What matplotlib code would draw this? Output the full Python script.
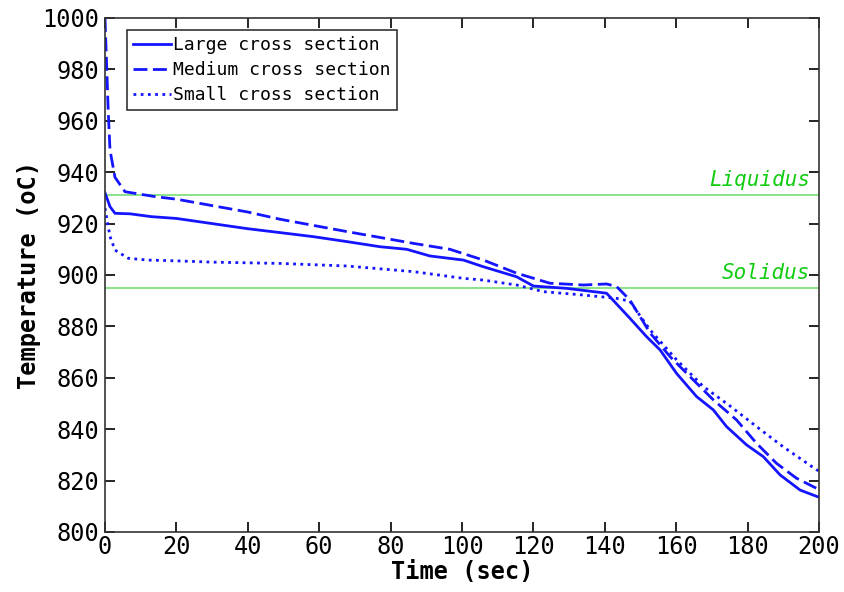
import matplotlib
matplotlib.use("Agg")
import matplotlib.pyplot as plt

# time (sec) and temperature (oC) for each cross section
t_large = [0, 1.4, 2.8, 7, 13, 20, 30, 40, 49, 58.4, 67.7, 77, 84.5, 91, 100.4, 106,
           115.3, 120, 129.3, 140.5, 147, 151.7, 155.5, 160.1, 165.7, 170.4, 174.1,
           179.7, 184.4, 189.1, 194.7, 200]
T_large = [932, 926.6, 924, 923.8, 922.7, 922, 920, 918, 916.5, 914.9, 913, 911, 910,
           907.4, 905.8, 903.2, 899.3, 895.7, 894.8, 892.9, 883.2, 876, 870.8, 861.7,
           852.7, 847.5, 841, 833.9, 829.3, 822.2, 816.3, 813.5]

t_medium = [0, 0.9, 1.4, 2.8, 5.6, 14, 20, 30, 40, 49, 67.7, 86.4, 96.6, 106, 115.3,
            124.6, 134, 140.5, 143.3, 147, 152.7, 158.3, 163.9, 170.4, 176.9, 182.5,
            188.1, 193.7, 200]
T_medium = [1000, 964, 948.6, 938, 932.4, 930.5, 929.5, 927, 924.5, 921.7, 916.9, 912.3,
            910, 905.8, 900.7, 896.8, 896.1, 896.5, 895.5, 890.3, 877.4, 868.2, 860.4,
            851.4, 843.6, 834.5, 826.7, 820.9, 816.5]

t_small = [0, 1.4, 2.8, 6.5, 12, 20, 30, 49, 67.7, 86.4, 100.4, 106, 115.3, 122.8, 134,
           143.3, 147, 152.7, 160.1, 167.6, 175.1, 182.5, 189.9, 199.3, 200]
T_small = [926, 915, 909.7, 906.5, 905.8, 905.5, 905, 904.5, 903.5, 901.3, 898.7, 898,
           896.1, 893.5, 892.2, 890.9, 889.8, 878.6, 867, 856.6, 849, 841, 833.2, 824.2,
           823.8]

LIQUIDUS = 931
SOLIDUS = 895

BLUE = "#1414ff"
GREEN_LINE = "#80e080"
GREEN_TEXT = "#11cc11"

plt.rcParams["font.family"] = ["DejaVu Sans Mono"]

fig = plt.figure(figsize=(8.44, 5.92), dpi=100)
ax = fig.add_axes([0.1244, 0.1014, 0.846, 0.8682])

ax.axhline(LIQUIDUS, color=GREEN_LINE, lw=1.3, zorder=1)
ax.axhline(SOLIDUS, color=GREEN_LINE, lw=1.3, zorder=1)

ax.plot(t_large, T_large, color=BLUE, lw=2, ls="-", label="Large cross section")
ax.plot(t_medium, T_medium, color=BLUE, lw=2, ls=(0, (5, 2)), label="Medium cross section")
ax.plot(t_small, T_small, color=BLUE, lw=2, ls=(0, (1, 1.6)), label="Small cross section")

ax.text(197.5, LIQUIDUS + 2, "Liquidus", color=GREEN_TEXT, fontsize=15,
        style="italic", ha="right", va="bottom")
ax.text(197.5, SOLIDUS + 2, "Solidus", color=GREEN_TEXT, fontsize=15,
        style="italic", ha="right", va="bottom")

ax.set_xlim(0, 200)
ax.set_ylim(800, 1000)
ax.set_xticks(range(0, 201, 20))
ax.set_yticks(range(800, 1001, 20))
ax.tick_params(direction="in", top=True, right=True, length=7, width=1.2,
               labelsize=17)
ax.tick_params(axis="x", pad=2)
ax.tick_params(axis="y", pad=4)
for s in ax.spines.values():
    s.set_linewidth(1.2)
    s.set_color("#333333")

ax.set_xlabel("Time (sec)", fontsize=17, fontweight="bold", labelpad=1)
ax.set_ylabel("Temperature (oC)", fontsize=17, fontweight="bold", labelpad=1)

leg = ax.legend(loc="upper left", bbox_to_anchor=(0.031, 0.977), borderaxespad=0,
                fontsize=13, handlelength=2.1, handletextpad=0.1, borderpad=0.35,
                labelspacing=0.38, fancybox=False, framealpha=1)
leg.get_frame().set_edgecolor("#333333")
leg.get_frame().set_linewidth(1.2)

fig.savefig("out.png", dpi=100)
